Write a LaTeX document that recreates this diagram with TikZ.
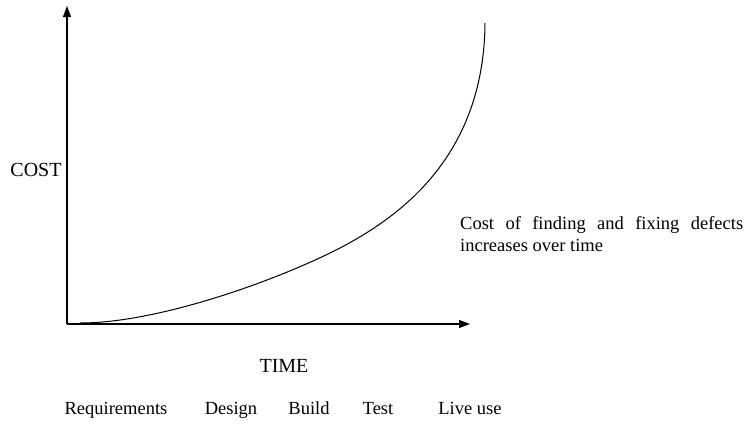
\documentclass[tikz,border=0pt]{standalone}
\usepackage{fontspec}
\setmainfont{Liberation Serif}
\usetikzlibrary{arrows.meta}
\tikzset{
	axis/.style={line width=1.2pt, -{Triangle[length=11pt,width=8pt]}},
	big/.style={font=\fontsize{20}{24}\selectfont},
	phase/.style={font=\fontsize{18.5}{22}\selectfont, inner sep=0pt}
}
\begin{document}
\begin{tikzpicture}[x=1pt,y=-1pt]
	\useasboundingbox (0,0) rectangle (753,424);
	\coordinate (o) at (67,324);
	\coordinate (ytop) at (67,6);
	\coordinate (xend) at (470,324);
	\coordinate (c1) at (80,323);
	\coordinate (c2) at (340,248);
	\coordinate (c3) at (485,23);
	
	\draw [axis](o) -- (ytop);
	\draw [axis](o) -- (xend);
	
	\draw [line width=1pt](c1) .. controls (160,323) and (280,279) .. (c2)
		.. controls (395,219) and (484,160) .. (c3);
	
	\draw (36,170) node[big](cost){COST};
	\draw (284,366) node[big](time){TIME};
	
	\draw (460,216) node[anchor=north west, text width=283pt, align=justify, phase](note){Cost of finding and fixing defects\linebreak increases over time};
	
	\draw (116,414) node[anchor=base, phase](req){Requirements};
	\draw (231,414) node[anchor=base, phase](des){Design};
	\draw (309,414) node[anchor=base, phase](bld){Build};
	\draw (378,414) node[anchor=base, phase](tst){Test};
	\draw (470,414) node[anchor=base, phase](live){Live use};
\end{tikzpicture}
\end{document}
